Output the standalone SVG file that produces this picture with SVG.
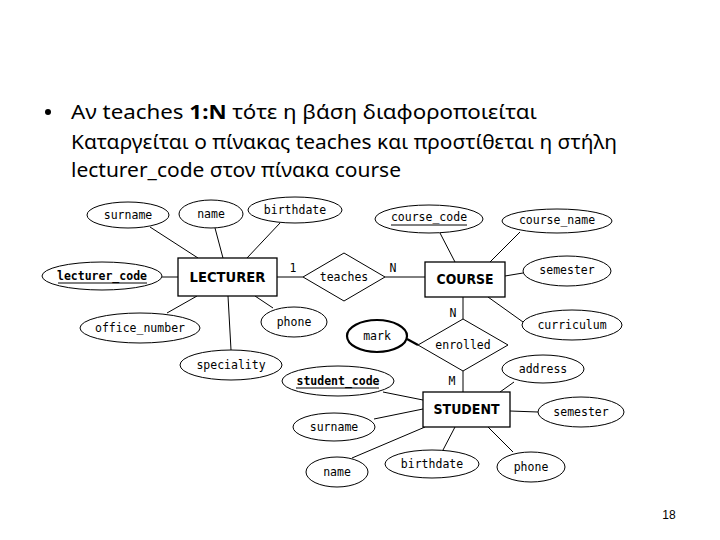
<svg xmlns="http://www.w3.org/2000/svg" width="720" height="540" viewBox="0 0 720 540">
<style>
.t{font-family:"Noto Sans","Open Sans",sans-serif;font-size:20px;fill:#000}
.a{font-family:"DejaVu Sans Mono","Liberation Mono",monospace;font-size:11.5px;fill:#000;text-anchor:middle}
.e{font-family:"DejaVu Sans","Liberation Sans",sans-serif;font-size:14px;font-weight:bold;fill:#000;text-anchor:middle}
.el{fill:#fff;stroke:#000;stroke-width:1}
.r{fill:#fff;stroke:#000;stroke-width:1.3}
.c line{stroke:#000;stroke-width:1}
.u{stroke:#000;stroke-width:1}
</style>
<rect width="720" height="540" fill="#fff"/>
<g id="heading">
<circle cx="48" cy="112" r="3" fill="#000"/>
<text class="t" x="71" y="119" textLength="466" lengthAdjust="spacingAndGlyphs">Αν teaches <tspan font-weight="bold">1:N</tspan> τότε η βάση διαφοροποιείται</text>
<text class="t" x="71" y="149" textLength="546" lengthAdjust="spacingAndGlyphs">Καταργείται ο πίνακας teaches και προστίθεται η στήλη</text>
<text class="t" x="71" y="177" textLength="330" lengthAdjust="spacingAndGlyphs">lecturer_code στον πίνακα course</text>
</g>
<g id="connectors" class="c">
<line x1="150" y1="227" x2="198" y2="258"/>
<line x1="215" y1="228" x2="223" y2="258"/>
<line x1="280" y1="223" x2="247" y2="258"/>
<line x1="162" y1="277" x2="178" y2="277"/>
<line x1="277" y1="277" x2="303" y2="277"/>
<line x1="385" y1="277" x2="425" y2="277"/>
<line x1="440" y1="233" x2="455" y2="262"/>
<line x1="520" y1="232" x2="490" y2="262"/>
<line x1="505" y1="276" x2="523" y2="273"/>
<line x1="488" y1="297" x2="523" y2="322"/>
<line x1="167" y1="313" x2="197" y2="296"/>
<line x1="228" y1="296" x2="231" y2="350"/>
<line x1="255" y1="296" x2="273" y2="308"/>
<line x1="463" y1="297" x2="463" y2="319"/>
<line x1="463" y1="371" x2="463" y2="392"/>
<line x1="407" y1="339" x2="418" y2="345" style="stroke-width:2.2"/>
<line x1="514" y1="382" x2="500" y2="392"/>
<line x1="383" y1="392" x2="423" y2="400"/>
<line x1="374" y1="419" x2="423" y2="409"/>
<line x1="352" y1="458" x2="425" y2="427"/>
<line x1="443" y1="450" x2="455" y2="427"/>
<line x1="513" y1="452" x2="488" y2="427"/>
<line x1="510" y1="411" x2="538" y2="412"/>
</g>
<g id="lecturer">
<rect class="r" x="178" y="258" width="99" height="38"/>
<text class="e" x="227.5" y="282" textLength="76" lengthAdjust="spacingAndGlyphs">LECTURER</text>
</g>
<g id="course">
<rect class="r" x="425" y="262" width="80" height="35"/>
<text class="e" x="465" y="284" textLength="57" lengthAdjust="spacingAndGlyphs">COURSE</text>
</g>
<g id="student">
<rect class="r" x="423" y="392" width="87" height="35"/>
<text class="e" x="466.5" y="414" textLength="66" lengthAdjust="spacingAndGlyphs">STUDENT</text>
</g>
<g id="teaches">
<polygon class="el" points="344,253 385,277 344,301 303,277"/>
<text class="a" x="344" y="281">teaches</text>
<text class="a" x="293" y="272">1</text>
<text class="a" x="393" y="272">N</text>
</g>
<g id="enrolled">
<polygon class="el" points="463,319 508,345 463,371 418,345"/>
<text class="a" x="463" y="349">enrolled</text>
<text class="a" x="453" y="317">N</text>
<text class="a" x="452" y="385">M</text>
</g>
<g id="l_surname"><ellipse class="el" cx="128" cy="215" rx="41" ry="13"/><text class="a" x="128" y="219">surname</text></g>
<g id="l_name"><ellipse class="el" cx="211" cy="214" rx="32" ry="14"/><text class="a" x="211" y="218">name</text></g>
<g id="l_birthdate"><ellipse class="el" cx="295" cy="210" rx="47" ry="13"/><text class="a" x="295" y="214">birthdate</text></g>
<g id="l_code"><ellipse class="el" cx="102" cy="276" rx="60" ry="14"/><text class="a" x="102" y="280" font-weight="bold">lecturer_code</text><line class="u" x1="58" y1="283" x2="147" y2="283"/></g>
<g id="l_office"><ellipse class="el" cx="140" cy="328" rx="60" ry="15"/><text class="a" x="140" y="332">office_number</text></g>
<g id="l_phone"><ellipse class="el" cx="294" cy="322" rx="33" ry="15"/><text class="a" x="294" y="326">phone</text></g>
<g id="l_speciality"><ellipse class="el" cx="231" cy="365" rx="51" ry="15"/><text class="a" x="231" y="369">speciality</text></g>
<g id="c_code"><ellipse class="el" cx="429" cy="219" rx="54" ry="14"/><text class="a" x="429" y="221">course_code</text><line class="u" x1="391" y1="225" x2="467" y2="225"/></g>
<g id="c_name"><ellipse class="el" cx="557" cy="221" rx="55" ry="12"/><text class="a" x="557" y="224">course_name</text></g>
<g id="c_semester"><ellipse class="el" cx="567" cy="271" rx="44" ry="15"/><text class="a" x="567" y="274">semester</text></g>
<g id="c_curriculum"><ellipse class="el" cx="572" cy="325" rx="50" ry="15"/><text class="a" x="572" y="329">curriculum</text></g>
<g id="mark"><ellipse class="el" cx="377" cy="336" rx="30" ry="16" style="stroke-width:2.2"/><text class="a" x="377" y="340">mark</text></g>
<g id="s_code"><ellipse class="el" cx="338" cy="381" rx="56" ry="15"/><text class="a" x="338" y="385" font-weight="bold">student_code</text><line class="u" x1="296" y1="388" x2="379" y2="388"/></g>
<g id="s_address"><ellipse class="el" cx="543" cy="369" rx="41" ry="14"/><text class="a" x="543" y="373">address</text></g>
<g id="s_semester"><ellipse class="el" cx="581" cy="412" rx="43" ry="15"/><text class="a" x="581" y="416">semester</text></g>
<g id="s_surname"><ellipse class="el" cx="334" cy="427" rx="41" ry="14"/><text class="a" x="334" y="431">surname</text></g>
<g id="s_name"><ellipse class="el" cx="337" cy="472" rx="31" ry="15"/><text class="a" x="337" y="476">name</text></g>
<g id="s_birthdate"><ellipse class="el" cx="432" cy="464" rx="47" ry="14"/><text class="a" x="432" y="468">birthdate</text></g>
<g id="s_phone"><ellipse class="el" cx="531" cy="467" rx="34" ry="15"/><text class="a" x="531" y="471">phone</text></g>
<text x="669" y="519" font-family="Liberation Sans,Arial,sans-serif" font-size="12" text-anchor="middle">18</text>
</svg>
